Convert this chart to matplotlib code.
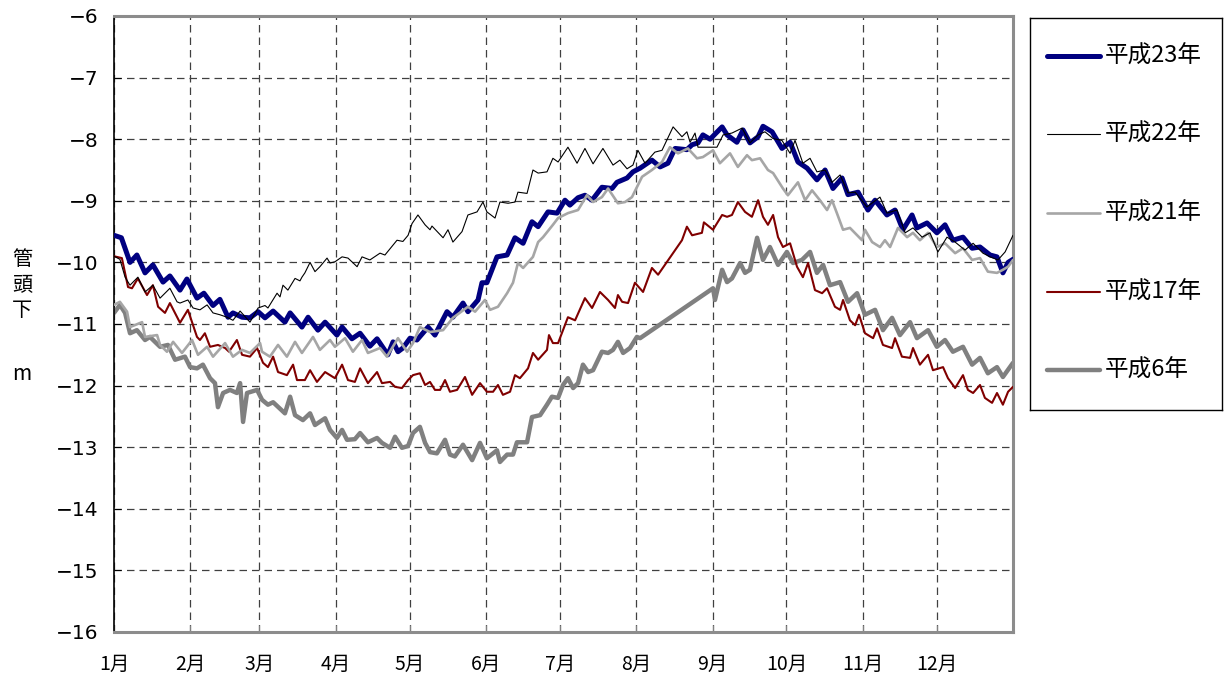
import matplotlib
matplotlib.use("Agg")
import matplotlib.pyplot as plt
from matplotlib.lines import Line2D

plt.rcParams['font.family'] = ['Noto Sans CJK JP', 'DejaVu Sans']

# ---- data (day of year, water level below well head [m]) ----
month_days = [0, 31, 59, 90, 120, 151, 181, 212, 243, 273, 304, 334]
month_labels = ["1月", "2月", "3月", "4月", "5月", "6月", "7月", "8月", "9月", "10月", "11月", "12月"]
y_ticks = [-16, -15, -14, -13, -12, -11, -10, -9, -8, -7, -6]
series_labels = ["平成23年", "平成22年", "平成21年", "平成17年", "平成6年"]

h23_day = [0, 3, 6.5, 9.3, 12.6, 15.8, 19.9, 22.7, 26.8, 29.6, 33.7, 36.5, 40.2, 43, 46.3, 48.3, 52, 55.2, 58.5, 61.3,
           64.6, 69.4, 71.5, 76.3, 78.8, 82.8, 85.7, 90.5, 92.6, 96.6, 99.9, 103.9, 106.8, 111.2, 113.3, 115.3, 117.3,
           120.2, 123, 127.5, 130.3, 135.2, 137.6, 141.7, 143.7, 147.8, 149.4, 151.4, 155.5, 159.6, 162.8, 166.1,
           169.7, 172.2, 176.2, 179.9, 183.1, 185.1, 188.4, 191.2, 194.1, 198.1, 202.2, 204.2, 208.3, 210.7, 213.6,
           218.4, 221.7, 224.9, 227.8, 232.6, 234.7, 237.1, 239.1, 242, 246.9, 248.9, 252.9, 255.4, 258.2, 261.5,
           263.5, 267.2, 271.2, 274.5, 277.7, 281.4, 285.4, 288.7, 291.9, 295.6, 298, 302.1, 306.1, 309, 313.8,
           317.1, 320.3, 324, 326, 330.1, 334.1, 337.4, 340.6, 344.7, 348.4, 351.6, 355.7, 358.5, 360.9, 363, 365]
h23_val = [-9.56, -9.6, -10.0, -9.88, -10.17, -10.04, -10.32, -10.22, -10.45, -10.27, -10.58, -10.5, -10.7, -10.6,
           -10.89, -10.82, -10.89, -10.9, -10.8, -10.9, -10.79, -10.97, -10.82, -11.05, -10.89, -11.1, -10.97, -11.18,
           -11.05, -11.24, -11.15, -11.36, -11.24, -11.5, -11.29, -11.45, -11.39, -11.23, -11.26, -11.05, -11.18,
           -10.8, -10.89, -10.66, -10.8, -10.61, -10.33, -10.33, -9.91, -9.88, -9.6, -9.69, -9.34, -9.42, -9.18,
           -9.2, -8.99, -9.07, -8.95, -8.91, -8.99, -8.78, -8.8, -8.7, -8.63, -8.53, -8.47, -8.34, -8.45, -8.39,
           -8.15, -8.17, -8.09, -8.06, -7.93, -8.0, -7.8, -7.93, -8.05, -7.85, -8.06, -7.96, -7.79, -7.88, -8.15,
           -8.05, -8.37, -8.47, -8.66, -8.5, -8.8, -8.63, -8.9, -8.86, -9.15, -8.99, -9.23, -9.15, -9.47, -9.23,
           -9.44, -9.36, -9.52, -9.39, -9.64, -9.59, -9.77, -9.75, -9.88, -9.91, -10.17, -10.0, -9.95]

h22_day = [0, 2.4, 4.5, 6.5, 9.7, 12.6, 15.8, 18.7, 20.7, 22.7, 25.6, 26.8, 30, 32.1, 34.9, 37.8, 40.2, 43, 45.9,
           48.3, 51.2, 55.2, 58.5, 61.3, 62.5, 66.2, 67.4, 68.6, 70.6, 73.5, 75.5, 76.3, 77.5, 79.6, 81.6, 83.6,
           86.5, 87.7, 89.7, 92.6, 95, 98.7, 100.7, 103.9, 108, 110, 114.9, 117.3, 119.4, 121, 123.4, 126.3, 128.3,
           129.1, 133.6, 135.6, 137.6, 141.3, 143.7, 147.4, 149.8, 151.4, 154.7, 156.7, 160, 162.8, 164, 167.7,
           170.1, 172.2, 175.8, 178.2, 180.3, 184.3, 188, 191.2, 194.5, 198.5, 202.6, 205.4, 208.3, 210.7, 212.7,
           215.6, 219.6, 222.5, 227, 230.6, 232.6, 233.9, 235.9, 237.1, 239.9, 244.8, 247.3, 250.9, 255, 258.2,
           261.5, 264.3, 267.6, 271.2, 274.5, 276.5, 279.7, 282.6, 285.4, 288.7, 291.5, 294.8, 298, 300.9, 305.7,
           311, 313.8, 317.9, 321.2, 324.4, 328.1, 331.3, 334.5, 338.2, 341.5, 345.5, 348.8, 352.8, 355.7, 358.9,
           361.8, 365]
h22_val = [-9.9, -9.95, -10.24, -10.37, -10.24, -10.48, -10.37, -10.58, -10.5, -10.42, -10.64, -10.66, -10.61,
           -10.74, -10.77, -10.69, -10.82, -10.85, -10.89, -10.94, -10.79, -10.97, -10.74, -10.7, -10.74, -10.5,
           -10.56, -10.37, -10.45, -10.26, -10.3, -10.24, -10.17, -10.0, -10.15, -10.07, -9.93, -10.01, -9.99,
           -9.91, -9.93, -10.07, -9.91, -9.96, -9.85, -9.88, -9.64, -9.66, -9.56, -9.37, -9.23, -9.39, -9.47,
           -9.41, -9.6, -9.47, -9.67, -9.5, -9.23, -9.18, -9.02, -9.18, -9.28, -9.02, -9.04, -9.02, -8.86, -8.88,
           -8.5, -8.55, -8.53, -8.31, -8.37, -8.13, -8.39, -8.15, -8.4, -8.15, -8.42, -8.34, -8.48, -8.42, -8.18,
           -8.39, -8.21, -8.18, -7.8, -7.96, -7.88, -8.05, -7.9, -8.13, -8.13, -8.13, -7.93, -7.9, -7.82, -8.06,
           -7.93, -7.88, -7.99, -8.02, -8.23, -8.02, -8.39, -8.31, -8.53, -8.5, -8.7, -8.58, -8.87, -8.86, -9.1,
           -8.94, -9.2, -9.15, -9.52, -9.44, -9.59, -9.52, -9.83, -9.59, -9.67, -9.8, -9.69, -9.85, -9.91, -9.96,
           -9.83, -9.56]

h21_day = [0, 2.4, 5.3, 6.5, 11.4, 12.6, 17.5, 18.7, 21.5, 24, 27.6, 31.7, 34.1, 37.8, 40.2, 45.1, 48.3, 52, 55.2,
           59.3, 60.1, 63.3, 66.6, 70.2, 73.5, 76.3, 80.8, 83.6, 87.7, 89.7, 93.8, 97, 100.7, 103.1, 108, 110.8,
           115.3, 119, 121.4, 124.2, 128.3, 133.6, 137.6, 143.7, 146.6, 150.6, 152.7, 155.9, 159.6, 162, 164,
           166.1, 170.1, 172.2, 174.2, 178.2, 180.3, 184.3, 188.4, 192, 194.5, 198.1, 200.6, 204.6, 207.5, 210.3,
           214.4, 218.4, 222.5, 225.7, 229, 233, 236.7, 239.1, 243.2, 246, 250.1, 253.3, 257, 259, 262.3, 265.5,
           267.6, 271.6, 273.6, 277.7, 280.6, 283.4, 286.6, 289.5, 291.5, 293.5, 296, 298.8, 303.7, 304.9, 307.8,
           311, 313, 315.1, 318.3, 322, 324.4, 327.2, 330.5, 334.1, 337.4, 341.5, 344.7, 348.4, 351.6, 354.8,
           358.5, 360.9, 363, 365]
h21_val = [-10.69, -10.64, -10.8, -11.05, -10.97, -11.21, -11.18, -11.34, -11.45, -11.29, -11.47, -11.26, -11.5,
           -11.37, -11.53, -11.31, -11.53, -11.42, -11.47, -11.31, -11.45, -11.53, -11.34, -11.53, -11.29, -11.47,
           -11.21, -11.42, -11.26, -11.37, -11.23, -11.45, -11.26, -11.47, -11.39, -11.53, -11.23, -11.45, -11.31,
           -11.05, -11.13, -11.1, -10.9, -10.72, -10.8, -10.61, -10.77, -10.72, -10.5, -10.33, -10.01, -10.09,
           -9.91, -9.67, -9.59, -9.39, -9.28, -9.2, -9.15, -8.91, -9.02, -8.94, -8.8, -9.04, -9.02, -8.94, -8.61,
           -8.5, -8.37, -8.13, -8.23, -8.15, -8.31, -8.29, -8.18, -8.39, -8.23, -8.45, -8.26, -8.34, -8.31, -8.5,
           -8.55, -8.8, -8.91, -8.7, -8.99, -8.83, -8.99, -9.15, -8.99, -9.2, -9.47, -9.44, -9.64, -9.47, -9.67,
           -9.75, -9.64, -9.75, -9.44, -9.59, -9.52, -9.64, -9.52, -9.75, -9.69, -9.85, -9.77, -9.96, -9.93,
           -10.15, -10.17, -10.12, -10.07, -9.96]

h17_day = [0, 3.2, 5.7, 7.3, 9.7, 13.4, 15.8, 17.9, 20.7, 22.7, 26.8, 30, 33.7, 34.9, 36.9, 39, 42.2, 45.1, 46.7,
           49.9, 52, 55.2, 58.1, 60.5, 62.5, 64.6, 66.6, 70.2, 72.7, 74.3, 77.5, 79.6, 82.4, 85.7, 89.7, 92.6, 95,
           97.8, 99.9, 103.1, 106.8, 108.8, 112.1, 114.1, 116.9, 119.4, 121.4, 124.2, 126.3, 128.3, 130.3, 132.4,
           134.4, 136.4, 139.3, 142.5, 145.4, 148.6, 151.4, 153.9, 155.9, 157.9, 160.8, 162.8, 164.8, 168.1, 170.1,
           172.2, 175.8, 176.6, 178.2, 180.3, 184.3, 187.2, 191.2, 194.1, 197.3, 200.6, 203.4, 204.6, 206.3, 208.7,
           211.5, 214.8, 218.4, 220.9, 230.6, 232.6, 234.7, 238.7, 239.5, 243.2, 246.9, 248.9, 250.9, 253.3, 256.2,
           259, 261.5, 263.5, 265.5, 267.6, 269.6, 271.6, 274.5, 277.3, 279.7, 281.8, 284.6, 287.5, 289.5, 292.7,
           294.8, 296, 298.8, 300.9, 302.5, 304.9, 308.2, 309.8, 312.2, 315.9, 317.1, 319.9, 323.2, 324.4, 327.2,
           330.5, 332.5, 336.6, 338.6, 341.5, 344.7, 346.7, 348.8, 351.6, 353.6, 356.5, 358.5, 360.9, 363, 365]
h17_val = [-9.9, -9.93, -10.4, -10.42, -10.26, -10.53, -10.37, -10.72, -10.82, -10.66, -10.98, -10.77, -11.21,
           -11.26, -11.15, -11.37, -11.34, -11.39, -11.45, -11.26, -11.5, -11.53, -11.39, -11.63, -11.7, -11.53,
           -11.78, -11.83, -11.66, -11.91, -11.91, -11.75, -11.94, -11.78, -11.88, -11.66, -11.91, -11.94, -11.72,
           -11.96, -11.78, -11.96, -11.94, -12.02, -12.04, -11.91, -11.83, -11.8, -11.99, -11.94, -12.07, -12.07,
           -11.91, -12.1, -12.07, -11.86, -12.15, -11.96, -12.1, -12.1, -11.99, -12.15, -12.1, -11.83, -11.88,
           -11.72, -11.47, -11.58, -11.42, -11.18, -11.31, -11.31, -10.89, -10.94, -10.58, -10.74, -10.48, -10.61,
           -10.74, -10.53, -10.64, -10.66, -10.33, -10.48, -10.09, -10.2, -9.64, -9.42, -9.56, -9.52, -9.35, -9.47,
           -9.23, -9.26, -9.23, -9.02, -9.18, -9.26, -8.99, -9.26, -9.39, -9.23, -9.59, -9.75, -9.69, -10.07,
           -10.24, -10.01, -10.45, -10.5, -10.42, -10.72, -10.77, -10.61, -10.94, -11.02, -10.85, -11.15, -11.23,
           -11.07, -11.34, -11.39, -11.23, -11.53, -11.55, -11.39, -11.66, -11.5, -11.75, -11.7, -11.88, -12.04,
           -11.83, -12.07, -12.12, -11.99, -12.2, -12.28, -12.12, -12.31, -12.1, -12.02]

h6_day = [0, 2.4, 4.5, 6.5, 9.3, 12.6, 14.6, 18.7, 21.9, 24.8, 28.8, 30.9, 33.7, 36.1, 39, 41, 42.2, 44.3, 47.1,
          49.9, 51.2, 52.4, 54, 58.1, 60.1, 62.5, 64.6, 69.4, 71.5, 73.5, 76.7, 79.6, 81.6, 85.7, 87.7, 90.5, 92.6,
          94.6, 97.8, 99.9, 103.1, 106.8, 108.8, 112.1, 114.1, 116.9, 119.4, 121.4, 124.2, 126.3, 128.3, 131.1,
          134.4, 136.4, 138.4, 141.7, 145.4, 148.6, 151.4, 155.5, 156.7, 159.6, 162, 163.6, 167.7, 169.7, 173,
          175.8, 177.8, 180.3, 182.3, 184.3, 186.4, 188.4, 190.4, 192.5, 194.5, 198.1, 200.6, 202.6, 204.6, 206.7,
          209.5, 212.3, 213.6, 243.2, 244, 246.9, 248.9, 250.9, 254.2, 256.2, 258.2, 261.1, 263.5, 266.3, 269.6,
          273.2, 275.7, 279.3, 282.6, 285.4, 287.9, 290.7, 294.8, 298, 301.7, 304.9, 309, 312.2, 315.9, 319.1,
          323.2, 326, 330.5, 334.1, 337.4, 340.6, 344.7, 348.4, 351.6, 354.8, 358.5, 360.9, 365]
h6_val = [-10.82, -10.69, -10.82, -11.15, -11.1, -11.26, -11.21, -11.37, -11.34, -11.58, -11.53, -11.7, -11.72,
          -11.66, -11.88, -11.96, -12.35, -12.12, -12.07, -12.12, -11.96, -12.59, -12.12, -12.07, -12.23, -12.31,
          -12.27, -12.45, -12.18, -12.48, -12.56, -12.45, -12.64, -12.53, -12.72, -12.85, -12.72, -12.88, -12.87,
          -12.77, -12.92, -12.85, -12.93, -13.01, -12.83, -13.01, -12.98, -12.77, -12.67, -12.93, -13.08, -13.1,
          -12.88, -13.12, -13.15, -12.96, -13.21, -12.93, -13.18, -13.05, -13.24, -13.12, -13.12, -12.92, -12.92,
          -12.51, -12.48, -12.31, -12.18, -12.2, -11.99, -11.88, -12.04, -11.96, -11.66, -11.78, -11.75, -11.45,
          -11.47, -11.42, -11.29, -11.47, -11.39, -11.21, -11.23, -10.42, -10.61, -10.12, -10.32, -10.26, -10.01,
          -10.17, -10.12, -9.6, -9.96, -9.75, -10.04, -9.83, -10.01, -9.96, -9.83, -10.17, -10.04, -10.37, -10.32,
          -10.64, -10.5, -10.85, -10.77, -11.1, -10.9, -11.18, -10.97, -11.23, -11.1, -11.37, -11.26, -11.45,
          -11.37, -11.66, -11.55, -11.8, -11.7, -11.86, -11.63]

# ---- styles ----
styles = {
    "平成23年": dict(color="#000080", lw=3.6, zorder=4),
    "平成22年": dict(color="#000000", lw=0.8, zorder=6),
    "平成21年": dict(color="#a6a6a6", lw=1.9, zorder=5),
    "平成17年": dict(color="#800000", lw=1.5, zorder=3),
    "平成6年": dict(color="#808080", lw=3.2, zorder=2),
}
data = {
    "平成23年": (h23_day, h23_val),
    "平成22年": (h22_day, h22_val),
    "平成21年": (h21_day, h21_val),
    "平成17年": (h17_day, h17_val),
    "平成6年": (h6_day, h6_val),
}

fig = plt.figure(figsize=(12.26, 6.82), dpi=100)
ax = fig.add_axes([114 / 1226, 1 - 632 / 682, (1013 - 114) / 1226, (632 - 16) / 682])

for name in series_labels:
    d, v = data[name]
    st = styles[name]
    ax.plot(d, v, color=st["color"], lw=st["lw"], zorder=st["zorder"],
            solid_joinstyle="round", solid_capstyle="round")

ax.set_xlim(0, 365)
ax.set_ylim(-16, -6)
ax.set_xticks(month_days)
ax.set_xticklabels(month_labels, fontsize=14)
ax.set_yticks(y_ticks)
ax.set_yticklabels([f"\u2212{abs(t)}" for t in y_ticks], fontsize=14.5,
                   family=["DejaVu Sans"])
ax.tick_params(axis="x", direction="in", length=5, pad=16, color="#808080")
ax.tick_params(axis="y", direction="in", length=5, pad=11)
ax.grid(True, color="#404040", lw=0.9, linestyle=(0, (6, 4)))
for s in ["top", "right", "bottom"]:
    ax.spines[s].set_color("#8c8c8c")
    ax.spines[s].set_linewidth(2.2)
ax.spines["left"].set_color("#000000")
ax.spines["left"].set_linewidth(1.2)

# y label (vertical stacked characters)
fig.text(22 / 1226, 1 - 285 / 682, "管\n頭\n下", ha="center", va="center",
         fontsize=14.5, linespacing=1.3)
fig.text(22 / 1226, 1 - 374 / 682, "m", ha="center", va="center", fontsize=15)

# legend box
lax = fig.add_axes([1030 / 1226, 1 - 410 / 682, 192 / 1226, 392 / 682])
lax.set_xlim(0, 1)
lax.set_ylim(0, 1)
lax.set_xticks([])
lax.set_yticks([])
for s in lax.spines.values():
    s.set_color("#000000")
    s.set_linewidth(1.0)
entry_y = [0.903, 0.704, 0.503, 0.301, 0.102]
for name, yy in zip(series_labels, entry_y):
    st = styles[name]
    lax.add_line(Line2D([0.09, 0.365], [yy, yy], color=st["color"], lw=st["lw"],
                        solid_capstyle="round"))
    lax.text(0.39, yy, name, va="center", ha="left", fontsize=17)

fig.savefig("out.png", dpi=100)
